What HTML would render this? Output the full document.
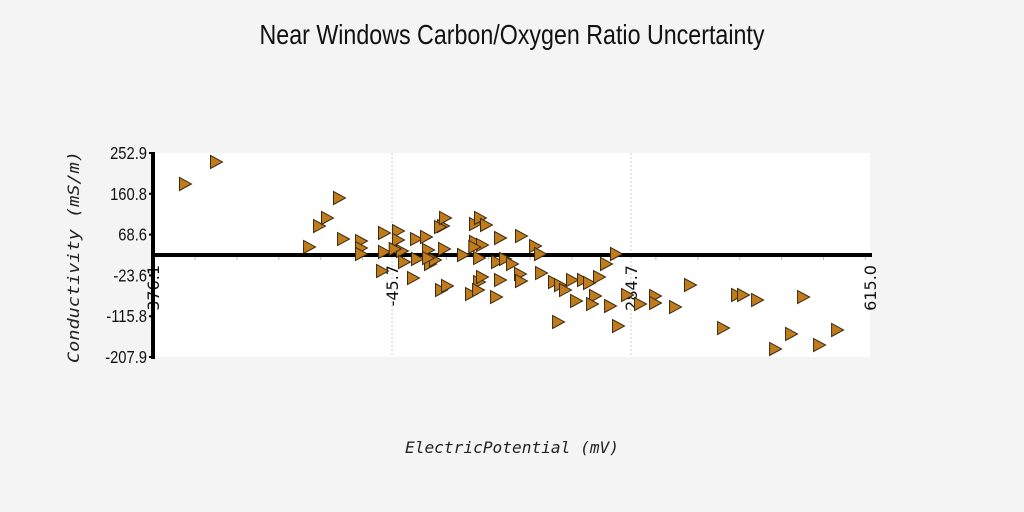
<!DOCTYPE html>
<html><head><meta charset="utf-8"><style>
html,body{margin:0;padding:0;background:#f4f4f4;}
svg{display:block;}
</style></head><body>
<svg id="chart" width="1024" height="512" xmlns="http://www.w3.org/2000/svg">
<rect x="0" y="0" width="1024" height="512" fill="#f4f4f4"/>
<text x="512" y="44" text-anchor="middle" font-family="Liberation Sans, sans-serif" font-size="28" textLength="505" lengthAdjust="spacingAndGlyphs" fill="#111">Near Windows Carbon/Oxygen Ratio Uncertainty</text>
<rect x="153" y="153" width="717" height="204" fill="#fff"/>
<g id="grid"></g><g id="axes"></g><g id="marks"></g>
<text x="512" y="453" text-anchor="middle" font-family="DejaVu Sans Mono, monospace" font-style="italic" font-size="16" textLength="214" lengthAdjust="spacingAndGlyphs" fill="#222">ElectricPotential (mV)</text>
<text transform="translate(79,257) rotate(-90)" text-anchor="middle" font-family="DejaVu Sans Mono, monospace" font-style="italic" font-size="16" textLength="212" lengthAdjust="spacingAndGlyphs" fill="#222">Conductivity (mS/m)</text>
</svg>
<script>
const xTicks = [-376.1, -45.7, 284.7, 615.0];
const yTicks = [252.9, 160.8, 68.6, -23.6, -115.8, -207.9];
const xAxisCross = 22.5;
const xVals = [-331.9,-289.0,-160.4,-146.6,-135.6,-119.0,-113.4,-88.6,-88.6,-88.6,-56.8,-37.4,-37.4,-56.8,-31.9,-59.5,-29.1,-16.7,-12.5,1.3,-11.1,4.1,6.8,13.7,24.8,20.6,26.2,22.0,30.3,52.4,69.0,75.9,84.2,69.0,78.7,74.6,74.6,63.5,73.2,78.7,98.1,103.6,99.4,103.6,110.5,120.2,131.2,132.6,132.6,152.0,158.9,160.3,178.2,186.5,193.4,203.1,208.7,218.3,226.6,240.4,250.1,263.9,234.9,230.8,255.7,183.8,266.7,279.2,297.1,317.9,317.9,345.5,366.2,411.9,431.2,439.5,458.9,483.8,505.9,522.5,544.6,569.5,27.6,4.1,68.0,-42.0];
const yVals = [182.9,232.6,40.6,88.0,106.1,151.3,58.6,54.1,38.3,24.8,72.2,76.7,56.4,29.3,31.5,-13.6,6.7,-29.5,58.6,63.2,13.5,33.8,2.2,11.2,88.0,85.7,36.1,-56.6,-47.5,22.5,92.5,106.1,90.3,51.9,45.1,15.7,-38.5,-65.6,-56.6,-27.2,-72.4,60.9,6.7,-34.0,13.5,2.2,-20.4,-36.2,65.4,42.8,24.8,-18.2,-38.5,-45.3,-56.6,-34.0,-81.4,-34.0,-40.7,-27.2,2.2,24.8,-70.1,-88.2,-92.7,-128.8,-137.9,-67.8,-88.2,-70.1,-85.9,-95.0,-45.3,-142.4,-67.8,-67.8,-79.1,-189.8,-155.9,-72.4,-180.8,-146.9,106.1,15.7,40.6,36.1];
const NS='http://www.w3.org/2000/svg';
const X0=153,X1=870,Y0=357,Y1=153;
const xMin=-376.1,xMax=615.0,yMin=-207.9,yMax=252.9;
function sx(v){return X0+(v-xMin)/(xMax-xMin)*(X1-X0);}
function sy(v){return Y0-(v-yMin)/(yMax-yMin)*(Y0-Y1);}
function mk(tag,attrs,parent){const e=document.createElementNS(NS,tag);for(const k in attrs)e.setAttribute(k,attrs[k]);parent.appendChild(e);return e;}
const grid=document.getElementById('grid'),axes=document.getElementById('axes'),marks=document.getElementById('marks');
const zy=sy(xAxisCross);
xTicks.forEach((t,i)=>{
  const x=sx(t);
  if(i>0&&i<xTicks.length-1){
    const g=mk('line',{x1:x,x2:x,y1:Y1,y2:Y0,stroke:'#ccc','stroke-width':1,'stroke-dasharray':'2,2'},grid);
    
    
  }
  const lb=mk('text',{transform:`translate(${x+6},${zy+10}) rotate(-90)`,'text-anchor':'end','font-family':'DejaVu Sans, sans-serif','font-size':16,fill:'#111'},axes);
  lb.textContent=t.toFixed(1);
  
  
});
for(let x=X0+42;x<X1;x+=41.9){
  const m=mk('line',{x1:x,x2:x,y1:zy+2,y2:zy+5,stroke:'#bbb','stroke-width':1},axes);
  
  
}
yTicks.forEach(t=>{
  const y=sy(t);
  const lb=mk('text',{x:147,y:y+6,'text-anchor':'end','font-family':'Liberation Sans, sans-serif','font-size':18,fill:'#111',transform:`translate(147,0) scale(0.82,1) translate(-147,0)`},axes);
  lb.textContent=t.toFixed(1);
  
  
  const tk=mk('line',{x1:149,x2:153,y1:y,y2:y,stroke:'#000','stroke-width':2},axes);
  
  
});
const ya=mk('line',{x1:X0,x2:X0,y1:Y1-1,y2:Y0+2,stroke:'#000','stroke-width':4},axes);


const xa=mk('line',{x1:X0,x2:X1+2,y1:zy,y2:zy,stroke:'#000','stroke-width':4},axes);


xVals.forEach((v,i)=>{
  const cx=sx(v),cy=sy(yVals[i]);
  const p=mk('polygon',{points:`${cx-5.5},${cy-6.5} ${cx+6.5},${cy} ${cx-5.5},${cy+6.5}`,fill:'#c07c1c',stroke:'#3a2a10','stroke-width':1},marks);
  
  
});
</script>
</body></html>
